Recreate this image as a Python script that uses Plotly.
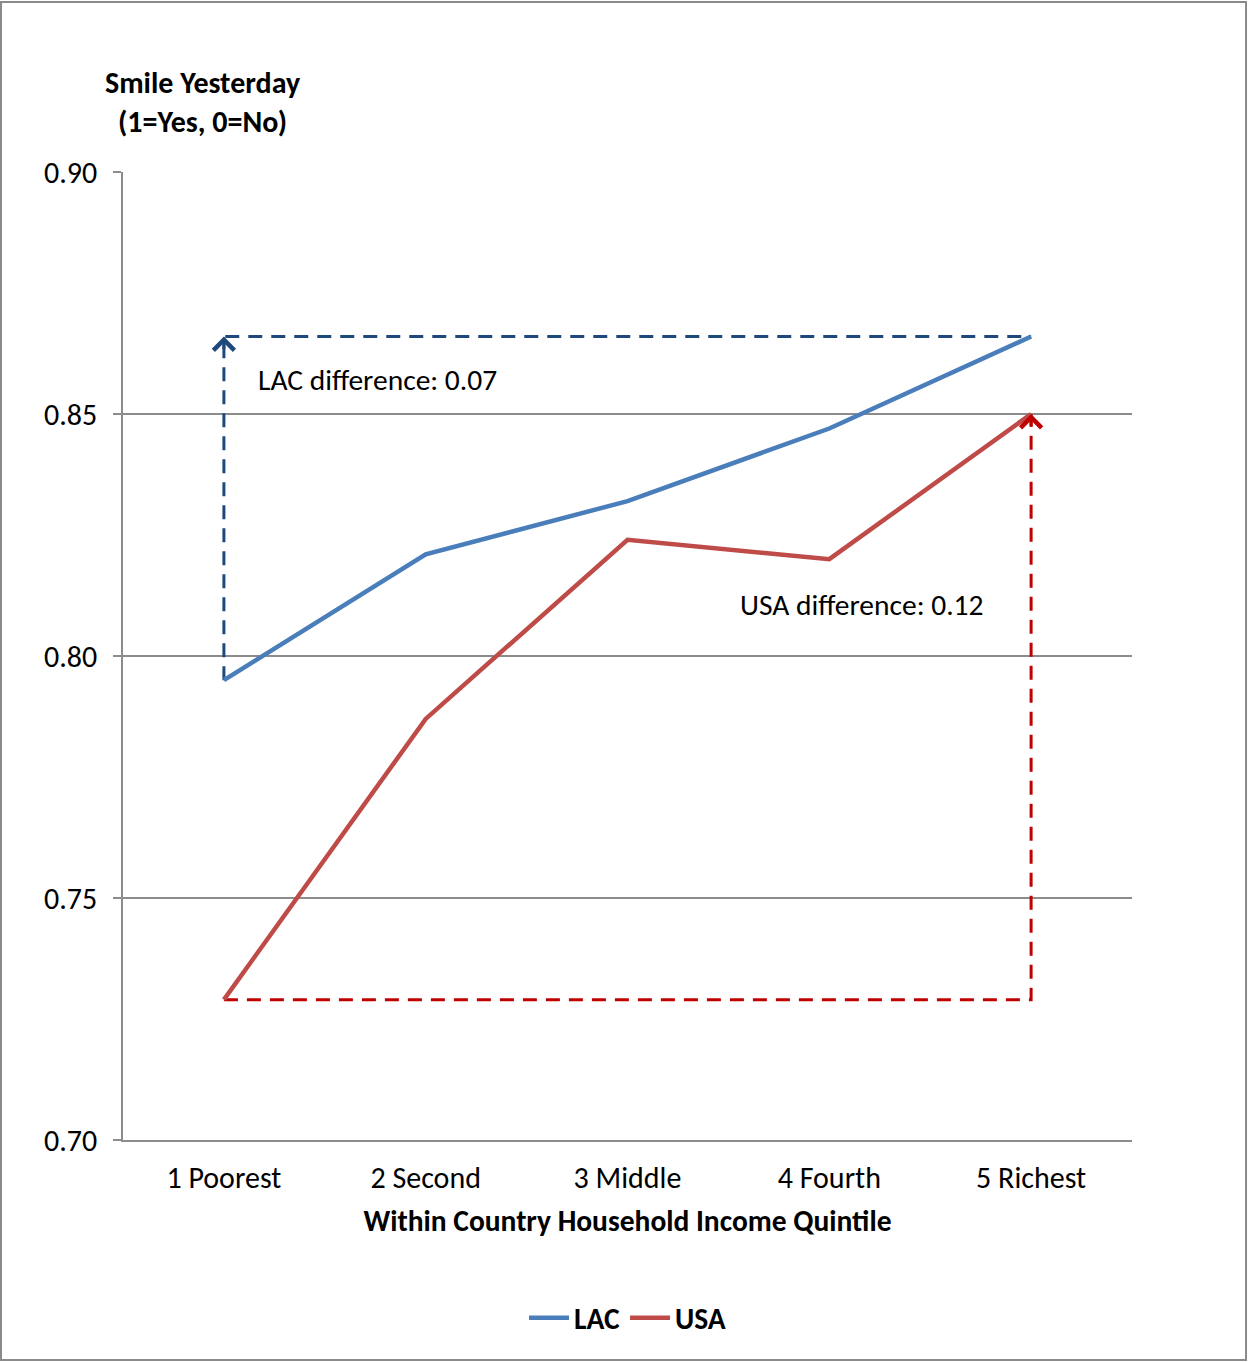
import plotly.graph_objects as go

# Smile yesterday share by within-country household income quintile
quintiles = ["1 Poorest", "2 Second", "3 Middle", "4 Fourth", "5 Richest"]
lac = [0.795, 0.821, 0.832, 0.847, 0.866]
usa = [0.729, 0.787, 0.824, 0.820, 0.850]
y_ticks = [0.70, 0.75, 0.80, 0.85, 0.90]

FONT = "Carlito, Calibri, Lato, sans-serif"
LAC_COLOR = "#4A7EBB"
USA_COLOR = "#BE4B48"
LAC_GAP = "#1F497D"
USA_GAP = "#C00000"
GRID = "#8C8C8C"
TXT = 29.5
TICK = 30

first, last = quintiles[0], quintiles[-1]
lac_diff = lac[-1] - lac[0]
usa_diff = usa[-1] - usa[0]

fig = go.Figure()

# poorest-to-richest gap guides
fig.add_trace(go.Scatter(
    x=[first, first, last], y=[lac[0], lac[-1], lac[-1]], mode="lines",
    line=dict(color=LAC_GAP, width=3, dash="14px,9px"),
    showlegend=False, hoverinfo="skip"))
fig.add_trace(go.Scatter(
    x=[first, last, last], y=[usa[0], usa[0], usa[-1]], mode="lines",
    line=dict(color=USA_GAP, width=3, dash="14px,9px"),
    showlegend=False, hoverinfo="skip"))

# series lines
fig.add_trace(go.Scatter(x=quintiles, y=lac, name="LAC", mode="lines",
                         line=dict(color=LAC_COLOR, width=4.5)))
fig.add_trace(go.Scatter(x=quintiles, y=usa, name="USA", mode="lines",
                         line=dict(color=USA_COLOR, width=4.5)))

# open arrowheads at the top of each gap
for xq, ytop, col in [(first, lac[-1], LAC_GAP), (last, usa[-1], USA_GAP)]:
    fig.add_annotation(x=xq, y=ytop, ax=0, ay=14, text="", showarrow=True,
                       arrowhead=4, arrowsize=1.35, arrowwidth=3, arrowcolor=col)

fig.add_annotation(x=0.16, y=0.857, text=f"LAC difference: {lac_diff:.2f}",
                   showarrow=False, xanchor="left", yanchor="middle",
                   font=dict(size=TXT, color="#000000", family=FONT))
fig.add_annotation(x=2.55, y=0.8105, text=f"USA difference: {usa_diff:.2f}",
                   showarrow=False, xanchor="left", yanchor="middle",
                   font=dict(size=TXT, color="#000000", family=FONT))

# y axis title
fig.add_annotation(xref="paper", yref="paper", x=0.079, y=1.072,
                   text="<b>Smile Yesterday</b><br><b>(1=Yes, 0=No)</b>",
                   showarrow=False, xanchor="center", yanchor="middle",
                   font=dict(size=TICK, color="#000000", family=FONT))

# outer frame
fig.add_shape(type="rect", xref="paper", yref="paper",
              x0=-0.1209, x1=1.113, y0=-0.2273, y1=1.1756,
              line=dict(color="#8A8A8A", width=2), fillcolor="rgba(0,0,0,0)")

fig.update_layout(
    width=1248, height=1362,
    margin=dict(l=123, r=116, t=172, b=222),
    paper_bgcolor="white", plot_bgcolor="white",
    font=dict(family=FONT, size=TICK, color="#000000"),
    showlegend=True,
    legend=dict(orientation="h", x=0.5, xanchor="center", y=-0.184,
                yanchor="middle", font=dict(size=TXT, weight="bold"),
                itemwidth=40, tracegroupgap=0),
    xaxis=dict(type="category", categoryorder="array", categoryarray=quintiles,
               range=[-0.5, 4.5], showgrid=False,
               showline=True, linecolor=GRID, linewidth=1.5, ticks="",
               ticklabelstandoff=10,
               title=dict(text="<b>Within Country Household Income Quintile</b>",
                          standoff=16, font=dict(size=TXT))),
    yaxis=dict(range=[0.70, 0.90], tickvals=y_ticks, tickformat=".2f",
               showgrid=True, gridcolor=GRID, gridwidth=1.5,
               showline=True, linecolor=GRID, linewidth=1.5,
               zeroline=False, ticks="outside", ticklen=8, tickcolor=GRID,
               tickwidth=1.5, ticklabelstandoff=10),
)

fig.write_html("out.html")
